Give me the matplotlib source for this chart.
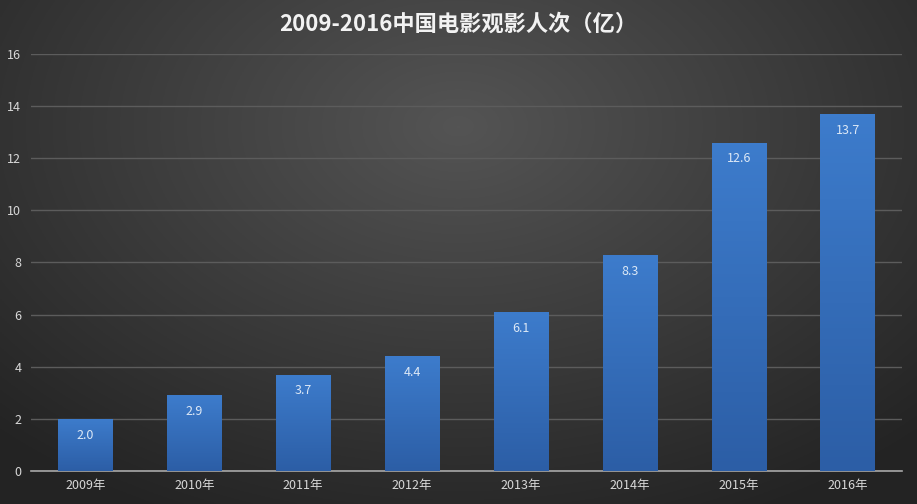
import numpy as np
import matplotlib
matplotlib.use("Agg")
import matplotlib.pyplot as plt

plt.rcParams["font.family"] = ["Noto Sans CJK SC", "DejaVu Sans"]

years = ["2009年", "2010年", "2011年", "2012年", "2013年", "2014年", "2015年", "2016年"]
admissions = [2.0, 2.9, 3.7, 4.4, 6.1, 8.3, 12.6, 13.7]
labels = ["2.0", "2.9", "3.7", "4.4", "6.1", "8.3", "12.6", "13.7"]
title = "2009-2016中国电影观影人次（亿）"

fig = plt.figure(figsize=(9.17, 5.04), dpi=100)

# radial-ish dark background
bg = fig.add_axes([0, 0, 1, 1], zorder=0)
yy, xx = np.mgrid[0:1:300j, 0:1:500j]
d = np.sqrt(((xx - 0.5) / 0.75) ** 2 + ((yy - 0.25) / 0.9) ** 2)
shade = np.clip(0.33 - 0.2 * d, 0.14, 0.34)
bg.imshow(np.dstack([shade] * 3), extent=[0, 1, 0, 1], aspect="auto", origin="upper")
bg.axis("off")

ax = fig.add_axes([0.0338, 0.0655, 0.95, 0.8275], zorder=1)
ax.patch.set_alpha(0)

x = np.arange(len(years))
bars = ax.bar(x, admissions, width=0.5, color="#3a78c8", zorder=3)

# vertical gradient on each bar
grad = np.linspace(0, 1, 100).reshape(-1, 1)
top = np.array([0x3d, 0x7c, 0xcc]) / 255
bot = np.array([0x2c, 0x5e, 0xa6]) / 255
img = grad[..., None] * top + (1 - grad[..., None]) * bot
for b in bars:
    im = ax.imshow(img, extent=[b.get_x(), b.get_x() + b.get_width(), 0, b.get_height()],
                   aspect="auto", origin="lower", zorder=4)
    im.set_clip_path(b)

for xi, v, lab in zip(x, admissions, labels):
    ax.text(xi, v - 0.38, lab, ha="center", va="top", color="#dce8f6", fontsize=9, zorder=5)

ax.set_xlim(-0.5, len(years) - 0.5)
ax.set_ylim(0, 16)
ax.set_yticks(range(0, 17, 2))
ax.set_xticks(x)
ax.set_xticklabels(years)
ax.yaxis.grid(True, color="#5c5c5c", linewidth=1)
ax.set_axisbelow(True)
for s in ["top", "right", "left"]:
    ax.spines[s].set_visible(False)
ax.spines["bottom"].set_color("#a8a8a8")
ax.spines["bottom"].set_linewidth(1.2)
ax.tick_params(axis="both", length=0, colors="#d8d8d8", labelsize=9)
ax.tick_params(axis="y", pad=7)
ax.tick_params(axis="x", pad=6)

fig.text(0.5, 0.952, title, ha="center", va="center", color="#f2f2f2",
         fontsize=16, fontweight="bold")

fig.savefig("out.png", dpi=100)
